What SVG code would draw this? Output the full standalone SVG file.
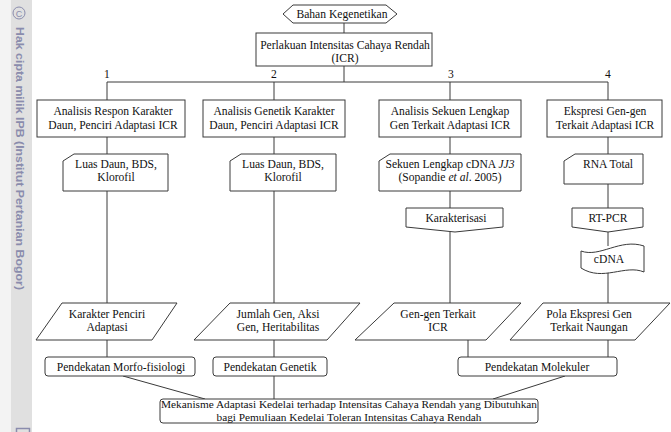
<svg xmlns="http://www.w3.org/2000/svg" width="671" height="432" viewBox="0 0 671 432">
<style>
.s{fill:#fff;stroke:#3a3a3a;stroke-width:1}
.t{font-family:"Liberation Serif","Times New Roman",serif;font-size:11.6px;fill:#111;text-anchor:middle}
.b{font-size:11.3px}
.c{fill:none;stroke:#3a3a3a;stroke-width:1}
.w{font-family:"Liberation Sans",Arial,sans-serif;font-weight:bold;font-size:11px;fill:#8a8cad}
</style>
<rect x="0" y="0" width="671" height="432" fill="#fff"/>
<g id="watermark">
<rect x="0" y="0" width="11" height="432" fill="#f3f3f3"/>
<rect x="11" y="0" width="21" height="432" fill="#e0e0e0"/>
<circle cx="19" cy="13" r="6" fill="none" stroke="#8a8cad" stroke-width="1"/>
<text x="19" y="16.5" class="w" style="font-weight:normal;font-size:9px" text-anchor="middle">C</text>
<text class="w" transform="translate(16,27) rotate(90)" textLength="263" lengthAdjust="spacingAndGlyphs">Hak cipta milik IPB (Institut Pertanian Bogor)</text>
<rect x="16.5" y="428.5" width="13" height="6" fill="none" stroke="#8a8cad" stroke-width="1.5"/>
</g>
<g id="connectors">
<path class="c" d="M344,23V33M344,66V82M107,82H608"/>
<path class="c" d="M107,82V100M107,137V154M107,191V303M107,340V357"/>
<path class="c" d="M274,82V100M274,137V154M274,191V303M274,340V357"/>
<path class="c" d="M450,82V100M450,137V154M450,191V208M450,232V303M468,340V357"/>
<path class="c" d="M608,82V100M608,137V154M608,184V208M608,232V246M608,271V303M608,340V357"/>
<path class="c" d="M123,376L205,399M274,376V399M565,376L493,399"/>
</g>
<g id="labels">
<text class="t" x="107" y="78">1</text>
<text class="t" x="274" y="78">2</text>
<text class="t" x="451" y="78">3</text>
<text class="t" x="608" y="78">4</text>
</g>
<g id="bahan">
<polygon class="s" points="283,14 293,5 386,5 397,14 386,23 293,23"/>
<text class="t" x="342" y="18">Bahan Kegenetikan</text>
</g>
<g id="perlakuan">
<rect class="s" x="256" y="33" width="176" height="33"/>
<text class="t" x="345" y="49">Perlakuan Intensitas Cahaya Rendah</text>
<text class="t" x="345" y="62">(ICR)</text>
</g>
<g id="analisis1">
<rect class="s" x="37" y="100" width="148" height="37"/>
<text class="t" x="113" y="115">Analisis Respon Karakter</text>
<text class="t" x="113" y="129">Daun, Penciri Adaptasi ICR</text>
</g>
<g id="analisis2">
<rect class="s" x="203" y="100" width="142" height="37"/>
<text class="t" x="274" y="115">Analisis Genetik Karakter</text>
<text class="t" x="274" y="129">Daun, Penciri Adaptasi ICR</text>
</g>
<g id="analisis3">
<rect class="s" x="379" y="100" width="142" height="37"/>
<text class="t" x="450" y="115">Analisis Sekuen Lengkap</text>
<text class="t" x="450" y="129">Gen Terkait Adaptasi ICR</text>
</g>
<g id="ekspresi4">
<rect class="s" x="547" y="100" width="115" height="37"/>
<text class="t" x="605" y="115">Ekspresi Gen-gen</text>
<text class="t" x="605" y="129">Terkait Adaptasi ICR</text>
</g>
<g id="luas1">
<path class="s" d="M63,161L74,154H168V191H63Z"/>
<text class="t" x="116" y="168">Luas Daun, BDS,</text>
<text class="t" x="116" y="181">Klorofil</text>
</g>
<g id="luas2">
<path class="s" d="M230,161L241,154H336V191H230Z"/>
<text class="t" x="283" y="168">Luas Daun, BDS,</text>
<text class="t" x="283" y="181">Klorofil</text>
</g>
<g id="sekuen3">
<path class="s" d="M379,161L390,154H521V191H379Z"/>
<text class="t" x="450" y="168">Sekuen Lengkap cDNA <tspan font-style="italic">JJ3</tspan></text>
<text class="t" x="450" y="181">(Sopandie <tspan font-style="italic">et al</tspan>. 2005)</text>
</g>
<g id="rna4">
<path class="s" d="M564,161L575,154H643V184H564Z"/>
<text class="t" x="608" y="168">RNA Total</text>
</g>
<g id="karakterisasi">
<polygon class="s" points="406,208 503,208 503,227 455,232 406,227"/>
<text class="t" x="456" y="222">Karakterisasi</text>
</g>
<g id="rtpcr">
<polygon class="s" points="572,208 643,208 643,227 608,232 572,227"/>
<text class="t" x="608" y="222">RT-PCR</text>
</g>
<g id="cdna">
<path class="s" d="M581,251C600,258 620,238 644,246V272C625,264 603,282 581,268Z"/>
<text class="t" x="609" y="263">cDNA</text>
</g>
<g id="karakter1">
<polygon class="s" points="62,303 177,303 152,340 36,340"/>
<text class="t" x="107" y="318">Karakter Penciri</text>
<text class="t" x="107" y="331">Adaptasi</text>
</g>
<g id="jumlah2">
<polygon class="s" points="230,303 360,303 327,340 194,340"/>
<text class="t" x="278" y="318">Jumlah Gen, Aksi</text>
<text class="t" x="278" y="331">Gen, Heritabilitas</text>
</g>
<g id="gengen3">
<polygon class="s" points="394,303 521,303 486,340 355,340"/>
<text class="t" x="438" y="318">Gen-gen Terkait</text>
<text class="t" x="438" y="331">ICR</text>
</g>
<g id="pola4">
<polygon class="s" points="543,303 670,303 635,340 510,340"/>
<text class="t" x="589" y="318">Pola Ekspresi Gen</text>
<text class="t" x="589" y="331">Terkait Naungan</text>
</g>
<g id="morfo">
<rect class="s" x="45" y="357" width="150" height="19" rx="3"/>
<text class="t" x="121" y="371">Pendekatan Morfo-fisiologi</text>
</g>
<g id="genetik">
<rect class="s" x="213" y="357" width="114" height="19" rx="3"/>
<text class="t" x="270" y="371">Pendekatan Genetik</text>
</g>
<g id="molekuler">
<rect class="s" x="458" y="357" width="159" height="19" rx="3"/>
<text class="t" x="537" y="371">Pendekatan Molekuler</text>
</g>
<g id="mekanisme">
<rect class="s" x="160" y="399" width="378" height="24" rx="3"/>
<text class="t b" x="349" y="408" textLength="376" lengthAdjust="spacingAndGlyphs">Mekanisme Adaptasi Kedelai terhadap Intensitas Cahaya Rendah yang Dibutuhkan</text>
<text class="t b" x="349" y="421">bagi Pemuliaan Kedelai Toleran Intensitas Cahaya Rendah</text>
</g>
</svg>
